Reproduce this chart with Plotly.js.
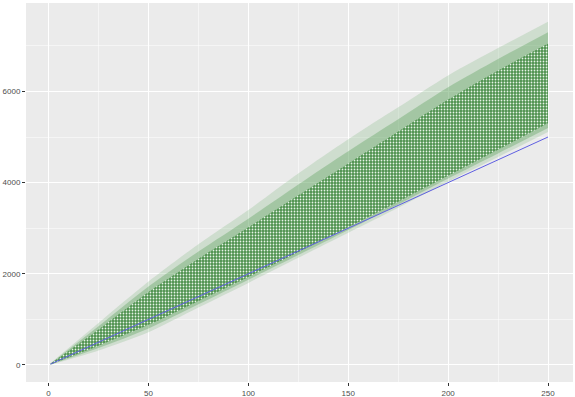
<!DOCTYPE html>
<html>
<head>
<meta charset="utf-8">
<script src="https://cdn.plot.ly/plotly-3.0.1.min.js"></script>
<style>html,body{margin:0;padding:0;background:#fff;}#chart{width:575px;height:397px;}</style>
</head>
<body>
<div id="chart"></div>
<script>
// Sampled step positions along the walks
var steps = [1, 25, 50, 75, 100, 125, 150, 175, 200, 225, 250];
// Envelope of the faint outer walks
var faintUpper = [40, 920, 1830, 2650, 3400, 4200, 4950, 5650, 6350, 6950, 7530];
var faintLower = [5, 320, 720, 1260, 1800, 2350, 2900, 3450, 4020, 4560, 5110];
// Envelope of the medium-density walks
var midUpper = [35, 850, 1720, 2490, 3210, 3960, 4690, 5390, 6090, 6710, 7300];
var midLower = [8, 370, 800, 1330, 1870, 2410, 2960, 3520, 4090, 4640, 5200];
// Envelope of the dense core of walks
var denseUpper = [30, 780, 1600, 2330, 3020, 3720, 4420, 5120, 5820, 6460, 7050];
var denseLower = [10, 420, 880, 1400, 1930, 2470, 3020, 3580, 4150, 4720, 5300];
// Reference (blue) line end points
var refX = [1, 250];
var refY = [20, 5000];
// Axis ticks
var xTicks = [0, 50, 100, 150, 200, 250];
var yTicks = [0, 2000, 4000, 6000];

function band(lower, upper, fillcolor, pattern) {
  var lo = {x: steps, y: lower, mode: 'lines', line: {width: 0, shape: 'spline', smoothing: 0.8}, hoverinfo: 'skip', showlegend: false};
  var up = {x: steps, y: upper, mode: 'lines', line: {width: 0, shape: 'spline', smoothing: 0.8}, fill: 'tonexty',
            fillcolor: fillcolor, hoverinfo: 'skip', showlegend: false};
  if (pattern) up.fillpattern = pattern;
  return [lo, up];
}

var traces = []
  .concat(band(faintLower, faintUpper, 'rgba(120,180,120,0.25)'))
  .concat(band(midLower, midUpper, 'rgba(100,165,100,0.40)'))
  .concat(band(denseLower, denseUpper, 'rgb(80,150,80)',
               {shape: '.', fgcolor: 'rgba(240,248,240,0.95)', bgcolor: 'rgb(76,145,76)', size: 3, solidity: 0.28}))
  .concat([{x: refX, y: refY, mode: 'lines', line: {width: 1, color: 'rgb(95,95,225)'}, hoverinfo: 'skip', showlegend: false}]);

var axisFont = {family: 'Liberation Sans, Arial, sans-serif', size: 8, color: '#4d4d4d'};
var layout = {
  width: 575, height: 397,
  margin: {l: 26, r: 2, t: 3, b: 15},
  paper_bgcolor: '#ffffff',
  plot_bgcolor: '#ebebeb',
  showlegend: false,
  xaxis: {
    range: [-11.3, 262.5], tickvals: xTicks, ticktext: xTicks.map(String),
    showgrid: true, gridcolor: '#ffffff', gridwidth: 1, zeroline: false,
    ticks: 'outside', ticklen: 3, tickcolor: '#333333', tickwidth: 1,
    tickfont: axisFont, showline: false,
    minor: {dtick: 25, tick0: 25, showgrid: true, gridcolor: '#ffffff', gridwidth: 0.5, ticks: ''}
  },
  yaxis: {
    range: [-373, 7939], tickvals: yTicks, ticktext: yTicks.map(String),
    showgrid: true, gridcolor: '#ffffff', gridwidth: 1, zeroline: false,
    ticks: 'outside', ticklen: 3, tickcolor: '#333333', tickwidth: 1,
    tickfont: axisFont, showline: false,
    minor: {dtick: 1000, tick0: 1000, showgrid: true, gridcolor: '#ffffff', gridwidth: 0.5, ticks: ''}
  }
};
Plotly.newPlot('chart', traces, layout, {staticPlot: true, displayModeBar: false});
</script>
</body>
</html>
